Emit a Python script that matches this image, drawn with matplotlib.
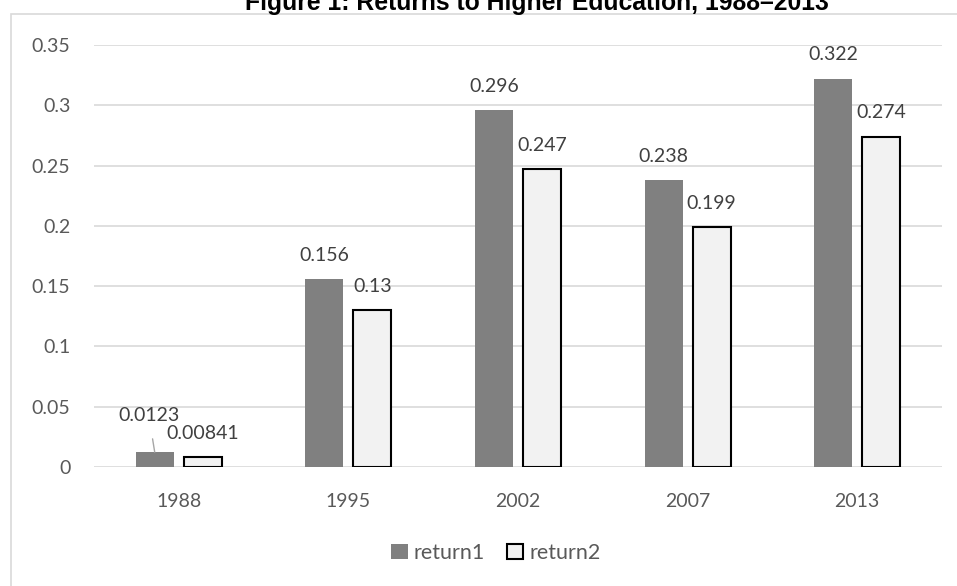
import matplotlib
matplotlib.use("Agg")
import matplotlib.pyplot as plt
from matplotlib.patches import Rectangle
import numpy as np

years = ["1988", "1995", "2002", "2007", "2013"]
return1 = [0.0123, 0.156, 0.296, 0.238, 0.322]
return2 = [0.00841, 0.13, 0.247, 0.199, 0.274]
labels1 = ["0.0123", "0.156", "0.296", "0.238", "0.322"]
labels2 = ["0.00841", "0.13", "0.247", "0.199", "0.274"]
yticks = [0, 0.05, 0.1, 0.15, 0.2, 0.25, 0.3, 0.35]
ytick_labels = ["0", "0.05", "0.1", "0.15", "0.2", "0.25", "0.3", "0.35"]

W, H = 957, 586
fig = plt.figure(figsize=(W / 100, H / 100), dpi=100)
fig.patch.set_facecolor("white")

# chart frame
fig.patches.append(Rectangle((11 / W, -0.05), 1.1, (H - 14) / H + 0.05,
                             transform=fig.transFigure, fill=False,
                             edgecolor="#D9D9D9", linewidth=1.2))

fig.text(537 / W, 1 - 10 / H, "Figure 1: Returns to Higher Education, 1988\u20132013",
         ha="center", va="baseline", fontsize=17.8, fontweight="bold",
         family="Liberation Sans", color="black")

ax = fig.add_axes([94 / W, (H - 467) / H, (942 - 94) / W, (467 - 45) / H])
x = np.arange(len(years))
bw = 0.224
off = 0.142
b1 = ax.bar(x - off, return1, bw, color="#808080", edgecolor="none", label="return1", zorder=3)
b2 = ax.bar(x + off, return2, bw, color="#F2F2F2", edgecolor="black", linewidth=1.5,
            label="return2", zorder=3)

ax.set_xlim(-0.5, len(years) - 0.5)
ax.set_ylim(0, 0.35)
ax.set_yticks(yticks)
ax.set_yticklabels(ytick_labels)
ax.set_xticks(x)
ax.set_xticklabels(years)
for s in ax.spines.values():
    s.set_visible(False)
ax.grid(axis="y", color="#D9D9D9", linewidth=1.2, zorder=0)
ax.tick_params(axis="both", length=0, labelsize=14, labelcolor="#595959", labelfontfamily="Lato")
ax.tick_params(axis="y", pad=17)
ax.tick_params(axis="x", pad=18.5)

tfont = dict(fontsize=14, color="#404040", family="Lato")
for i in range(len(years)):
    if i == 0:
        ax.annotate(labels1[i], xy=(x[i] - off, return1[i]), xytext=(-4.3, 26.6),
                    textcoords="offset points", ha="center", va="center",
                    arrowprops=dict(arrowstyle="-", color="#A6A6A6", lw=1,
                                    shrinkA=9, shrinkB=0), **tfont)
        ax.annotate(labels2[i], xy=(x[i] + off, return2[i]), xytext=(0, 17),
                    textcoords="offset points", ha="center", va="center", **tfont)
    else:
        ax.annotate(labels1[i], xy=(x[i] - off, return1[i]), xytext=(0, 11),
                    textcoords="offset points", ha="center", va="bottom", **tfont)
        ax.annotate(labels2[i], xy=(x[i] + off, return2[i]), xytext=(0, 11),
                    textcoords="offset points", ha="center", va="bottom", **tfont)

leg = fig.legend(handles=[b1, b2], loc="center", bbox_to_anchor=(496 / W, 1 - 553 / H),
                 ncol=2, frameon=False, handlelength=0.75, handleheight=0.75,
                 handletextpad=0.3, columnspacing=1.0, prop={"family": "Lato", "size": 15.5})
for t in leg.get_texts():
    t.set_color("#595959")

fig.savefig("out.png", dpi=100)
